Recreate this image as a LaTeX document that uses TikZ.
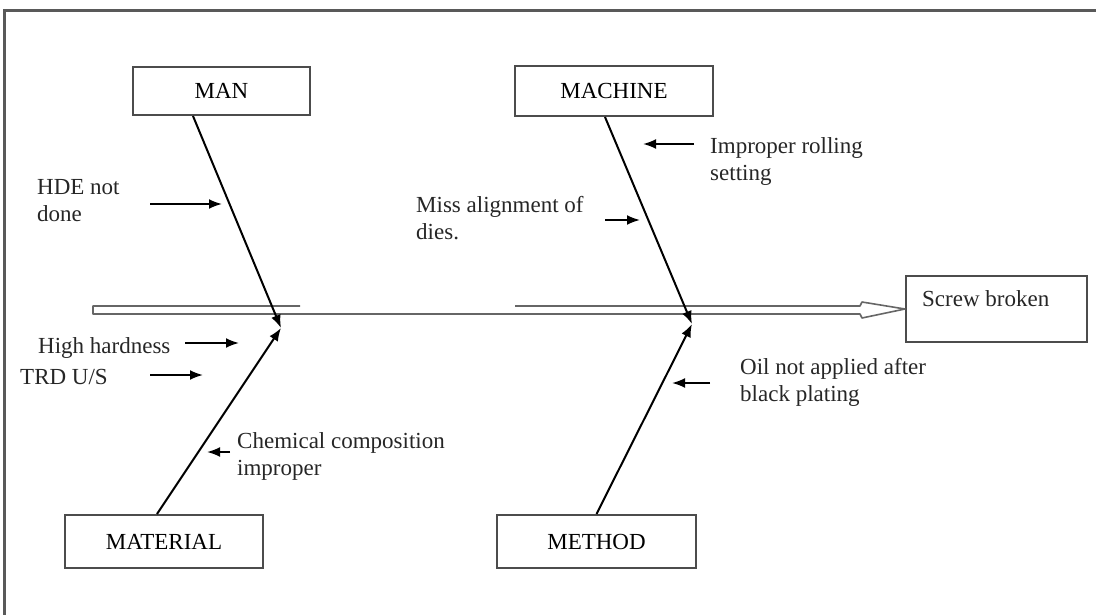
\documentclass[tikz,border=0pt]{standalone}
\usepackage{fontspec}
\setmainfont{Liberation Serif}
\usetikzlibrary{arrows.meta,positioning}

\begin{document}
\begin{tikzpicture}[x=1pt,y=-1pt,
	cat/.style={draw=black!70,line width=2pt,minimum height=50pt,inner sep=0pt,font=\fontsize{23}{27}\selectfont},
	cause/.style={anchor=north west,align=left,inner sep=0pt,text=black!85,font=\fontsize{23}{27}\selectfont},
	bone/.style={line width=2pt,-{Latex[length=13pt,width=10pt]}},
	hint/.style={line width=2pt,-{Latex[length=13pt,width=10pt]}},
	spine/.style={line width=1.6pt,black!60}]
		\useasboundingbox (0,0) rectangle (1096,615);
		\draw[line width=3pt,black!65] (4,615) -- (4,11) -- (1096,11);
		% category boxes
		\node[cat,minimum width=177pt,minimum height=48pt] (man) at (221.5,91) {MAN};
		\node[cat,minimum width=198pt] (machine) at (614,91) {MACHINE};
		\node[cat,minimum width=198pt,minimum height=53pt] (material) at (164,541.5) {MATERIAL};
		\node[cat,minimum width=199pt,minimum height=53pt] (method) at (596.5,541.5) {METHOD};
		\node[cat,minimum width=181pt,minimum height=66pt] (screw) at (996.5,309) {};
		\node[cause] (effect) at (922,290) {Screw broken};
		% spine
		\draw[spine,line join=round] (300,306) -- (93,306) -- (93,314) -- (860,314) -- (862,318) -- (screw.west)
			-- (862,302) -- (860,306) -- (515,306);
		% bones
		\coordinate (hitA) at (281,328);
		\coordinate (hitB) at (692,324);
		\draw[bone] ([xshift=-28.5pt]man.south) -- (hitA);
		\draw[bone] ([xshift=-9pt]machine.south) -- (hitB);
		\draw[bone] ([xshift=-7pt]material.north) -- (hitA);
		\draw[bone] (method.north) -- (hitB);
		% causes
		\node[cause] (hde) at (37,179) {HDE not\\done};
		\node[cause] (miss) at (416,196) {Miss alignment of\\dies.};
		\node[cause] (roll) at (710,137) {Improper rolling\\setting};
		\node[cause] (hard) at (38,337) {High hardness};
		\node[cause] (trd) at (20,369) {TRD U/S};
		\node[cause] (chem) at (237,432) {Chemical composition\\improper};
		\node[cause] (oil) at (740,358) {Oil not applied after\\black plating};
		\coordinate (hdeA) at (150,204); \coordinate (hdeB) at (222,204);
		\coordinate (missA) at (605,220); \coordinate (missB) at (640,220);
		\coordinate (rollA) at (694,144); \coordinate (rollB) at (643,144);
		\coordinate (hardA) at (185,343); \coordinate (hardB) at (239,343);
		\coordinate (trdA) at (150,375); \coordinate (trdB) at (203,375);
		\coordinate (chemA) at (230,452); \coordinate (chemB) at (207,452);
		\coordinate (oilA) at (710,383); \coordinate (oilB) at (672,383);
		\draw[hint] (hdeA) -- (hdeB);
		\draw[hint] (missA) -- (missB);
		\draw[hint] (rollA) -- (rollB);
		\draw[hint] (hardA) -- (hardB);
		\draw[hint] (trdA) -- (trdB);
		\draw[hint] (chemA) -- (chemB);
		\draw[hint] (oilA) -- (oilB);
\end{tikzpicture}
\end{document}
